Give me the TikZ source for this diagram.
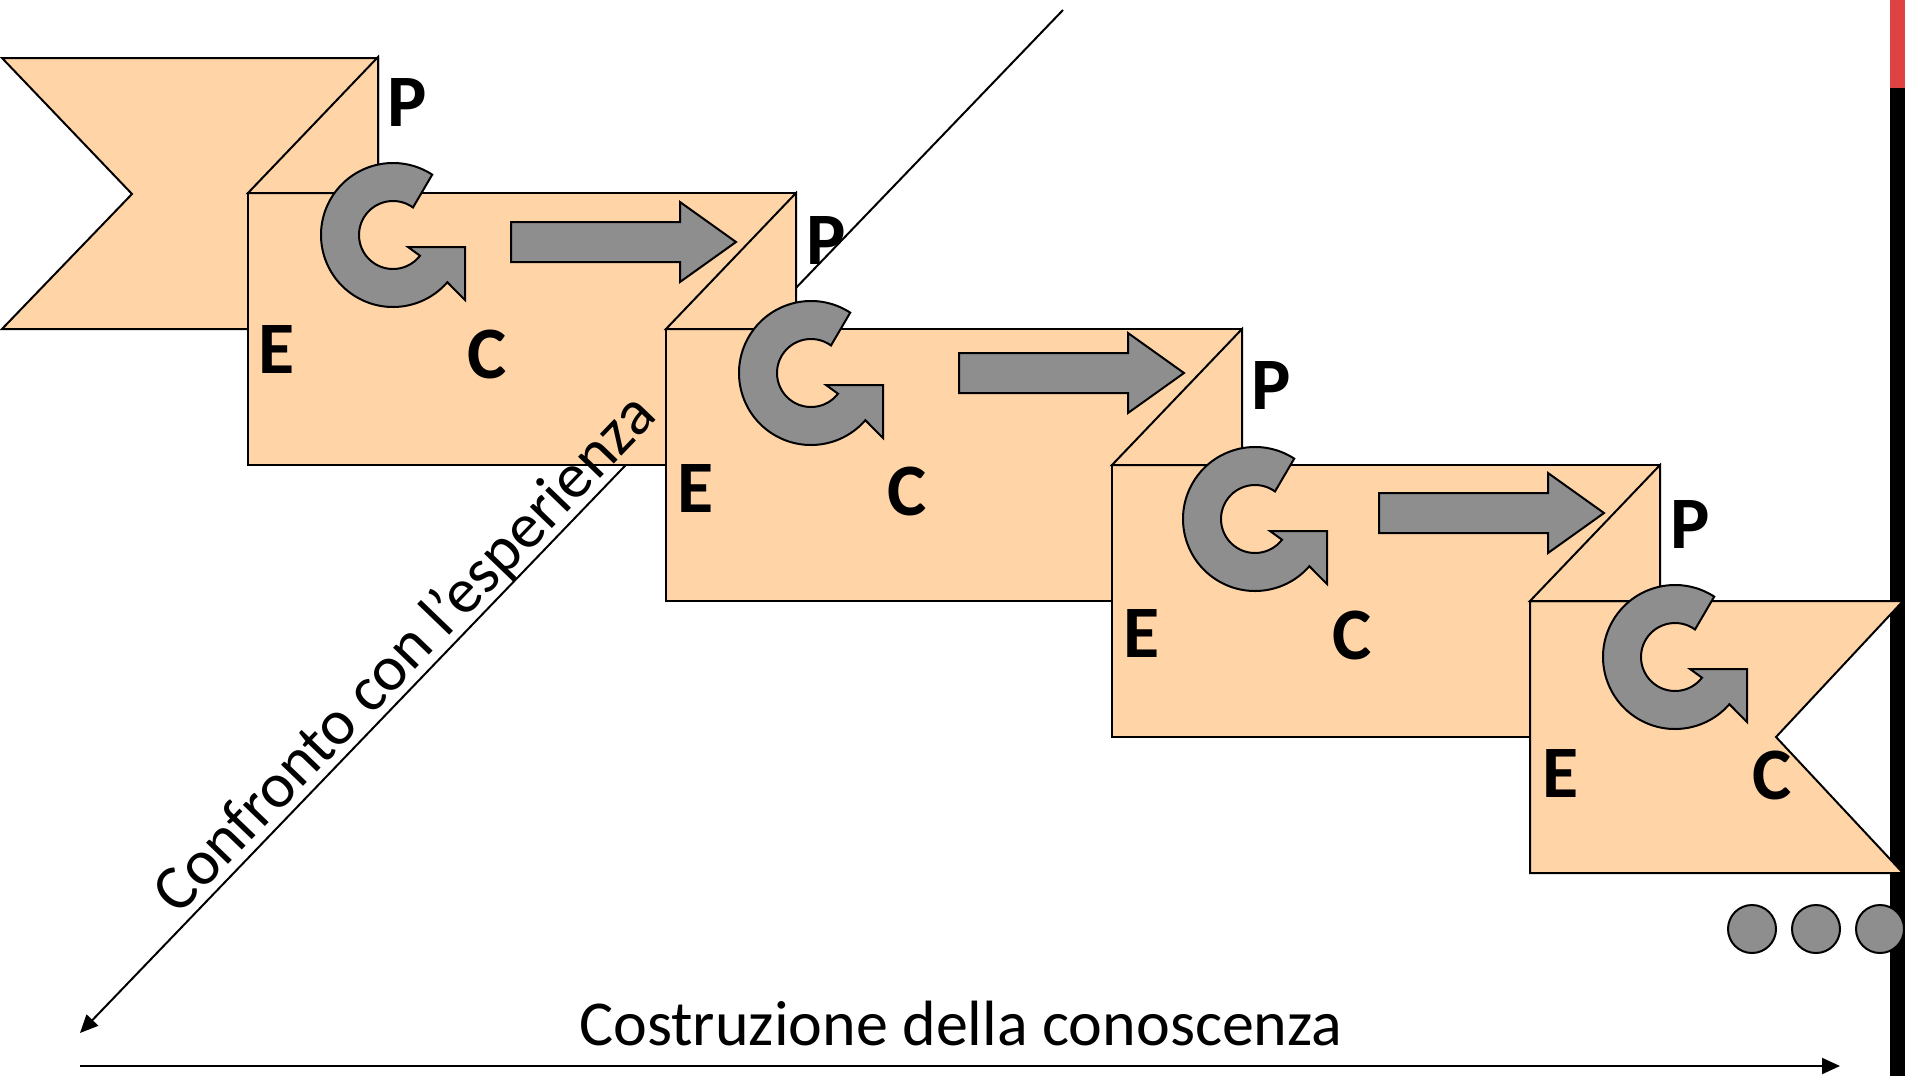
\documentclass[tikz,border=0pt]{standalone}
\usepackage{fontspec}
\setmainfont{Carlito}
\usetikzlibrary{calc,arrows.meta}
\definecolor{peach}{RGB}{255,213,168}
\definecolor{ggrey}{RGB}{142,142,142}
\definecolor{barred}{RGB}{222,66,66}
\newcommand\cyclearrow[2]{%
  \coordinate (#1) at #2;
  \draw[cyc] ($(#1)+(57:72pt)$) arc[start angle=57,end angle=319,radius=72pt]
    -- ($(#1)+(72,65)$) -- ($(#1)+(72,12)$) -- ($(#1)+(15,12)$)
    -- ($(#1)+(322.5:34pt)$) arc[start angle=322.5,end angle=54,radius=34pt] -- cycle;}
\newcommand\fwdarrow[2]{%
  \coordinate (#1) at #2;
  \draw[cyc] ($(#1)+(-225,-20)$) -- ($(#1)+(-56,-20)$) -- ($(#1)+(-56,-40)$) -- (#1)
    -- ($(#1)+(-56,40)$) -- ($(#1)+(-56,20)$) -- ($(#1)+(-225,20)$) -- cycle;}
\newcommand\stepbox[4]{% xL yT xR yB
  \draw[boxst] (#1,#2) rectangle (#3,#4);
  \draw[boxst] (#1,#2) -- ++(130,-136) -- ++(0,136) -- cycle;}
\begin{document}
\begin{tikzpicture}[x=1pt,y=-1pt,
  boxst/.style={fill=peach,draw=black,line width=2pt,line join=miter},
  cyc/.style={fill=ggrey,draw=black,line width=2pt,line join=miter},
  lbl/.style={font=\fontsize{74}{80}\selectfont\bfseries,inner sep=0pt},
  axis/.style={draw=black,line width=2pt,-{Triangle[length=18pt,width=16pt]}},
  ttl/.style={font=\fontsize{64}{70}\selectfont,inner sep=0pt},
  dot/.style={circle,fill=ggrey,draw=black,line width=2pt,minimum size=48pt,inner sep=0pt}]
\useasboundingbox (0,0) rectangle (1905,1076);
\fill[white] (0,0) rectangle (1905,1076);
% side bar
\fill[barred] (1890,0) rectangle (1905,88);
\fill[black] (1890,88) rectangle (1905,1076);
% diagonal axis (behind the boxes)
\coordinate (dtop) at (1063,10);
\coordinate (dbot) at (80,1033);
\draw[axis] (dtop) -- (dbot);
% first flag
\draw[boxst] (2,58) -- (378,58) -- (378,329) -- (2,329) -- (132,194) -- cycle;
% steps
\stepbox{248}{193}{796}{465}
\stepbox{666}{329}{1242}{601}
\stepbox{1112}{465}{1660}{737}
\draw[boxst] (1530,601) -- (1903,601) -- (1776,737) -- (1903,873) -- (1530,873) -- cycle;
\draw[boxst] (1530,601) -- ++(130,-136) -- ++(0,136) -- cycle;
% cycle arrows
\cyclearrow{c1}{(393,235)}
\cyclearrow{c2}{(811,373)}
\cyclearrow{c3}{(1255,519)}
\cyclearrow{c4}{(1675,657)}
% forward arrows
\fwdarrow{f1}{(736,242)}
\fwdarrow{f2}{(1184,373)}
\fwdarrow{f3}{(1604,513)}
% labels
\node[lbl] (p1) at (407,103) {P};
\node[lbl] (p2) at (826,241) {P};
\node[lbl] (p3) at (1271,386) {P};
\node[lbl] (p4) at (1690,525) {P};
\node[lbl] (e1) at (277,350) {E};
\node[lbl] (e2) at (696,489) {E};
\node[lbl] (e3) at (1142,633) {E};
\node[lbl] (e4) at (1561,773) {E};
\node[lbl] (k1) at (487,354) {C};
\node[lbl] (k2) at (907,491) {C};
\node[lbl] (k3) at (1352,635) {C};
\node[lbl] (k4) at (1772,775) {C};
% texts
\node[ttl,rotate=46.1] (conf) at (406,655) {Confronto con l’esperienza};
\node[ttl] (costr) at (961,1024) {Costruzione della conoscenza};
% dots
\node[dot] (d1) at (1752,929) {};
\node[dot] (d2) at (1816,929) {};
\node[dot] (d3) at (1880,929) {};
% horizontal axis
\coordinate (hs) at (80,1066);
\coordinate (he) at (1840,1066);
\draw[axis] (hs) -- (he);
\end{tikzpicture}
\end{document}
